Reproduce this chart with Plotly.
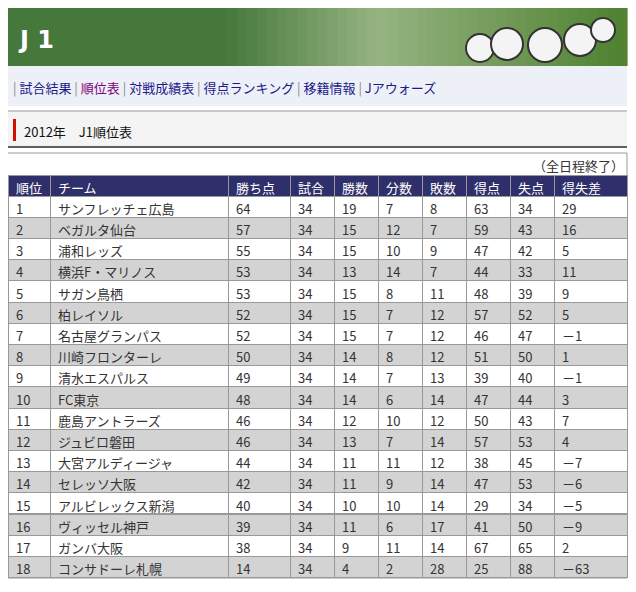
import plotly.graph_objects as go

# the page body adds an 8px margin, so the figure is drawn 8px smaller and shifted
OFF = 8
W, H = 636 - 2 * OFF, 592 - 2 * OFF

ranks = list(range(1, 19))
teams = ["サンフレッチェ広島", "ベガルタ仙台", "浦和レッズ", "横浜F・マリノス", "サガン鳥栖",
         "柏レイソル", "名古屋グランパス", "川崎フロンターレ", "清水エスパルス", "FC東京",
         "鹿島アントラーズ", "ジュビロ磐田", "大宮アルディージャ", "セレッソ大阪",
         "アルビレックス新潟", "ヴィッセル神戸", "ガンバ大阪", "コンサドーレ札幌"]
points = [64, 57, 55, 53, 53, 52, 52, 50, 49, 48, 46, 46, 44, 42, 40, 39, 38, 14]
games = [34] * 18
wins = [19, 15, 15, 13, 15, 15, 15, 14, 14, 14, 12, 13, 11, 11, 10, 11, 9, 4]
draws = [7, 12, 10, 14, 8, 7, 7, 8, 7, 6, 10, 7, 11, 9, 10, 6, 11, 2]
losses = [8, 7, 9, 7, 11, 12, 12, 12, 13, 14, 12, 14, 12, 14, 14, 17, 14, 28]
goals_for = [63, 59, 47, 44, 48, 57, 46, 51, 39, 47, 50, 57, 38, 47, 29, 41, 67, 25]
goals_against = [34, 43, 42, 33, 39, 52, 47, 50, 40, 44, 43, 53, 45, 53, 34, 50, 65, 88]
goal_diff = [29, 16, 5, 11, 9, 5, -1, 1, -1, 3, 7, 4, -7, -6, -5, -9, 2, -63]
headers = ["順位", "チーム", "勝ち点", "試合", "勝数", "分数", "敗数", "得点", "失点", "得失差"]
nav_items = ["試合結果", "順位表", "対戦成績表", "得点ランキング", "移籍情報", "Jアウォーズ"]

FONT = "Noto Sans CJK JP"
CJK_SHIFT = 10  # CJK font renders lower than its anchor


def px(x):
    return (x - OFF) / W


def py(y):
    return 1 - (y - OFF) / H


def clamp(v):
    return min(1, max(0, v))


def rect(x0, y0, x1, y1, fill, line=None):
    return dict(type="rect", xref="paper", yref="paper", x0=px(x0), x1=px(x1),
                y0=py(y1), y1=py(y0), fillcolor=fill, layer="below",
                line=dict(width=1 if line else 0, color=line or fill))


def fmt_diff(v):
    return f"－{-v}" if v < 0 else str(v)


shapes = []
# banner gradient (dark green -> pale -> grass)
n = 62
for i in range(n):
    t = i / (n - 1)
    if t < 0.35:
        c = (70, 120, 60)
    elif t < 0.6:
        k = (t - 0.35) / 0.25
        c = (int(70 + k * 80), int(120 + k * 60), int(60 + k * 70))
    else:
        k = (t - 0.6) / 0.4
        c = (int(150 - k * 70), int(180 - k * 50), int(130 - k * 80))
    x0 = 7 + i * 620 / n
    shapes.append(rect(x0, 7, x0 + 620 / n + 0.6, 66, f"rgb{c}"))
# footballs
for cx, cy, r in [(480, 48, 14), (507, 44, 16), (545, 45, 17), (580, 40, 16), (603, 30, 12)]:
    shapes.append(dict(type="circle", xref="paper", yref="paper", x0=px(cx - r), x1=px(cx + r),
                       y0=py(cy + r), y1=py(cy - r), fillcolor="#f4f4f4",
                       line=dict(color="#333", width=2)))
# nav band
shapes.append(rect(7, 66, 627, 106, "#eef0f7"))
# title band
shapes.append(rect(7, 110, 627, 148, "#f4f4f4"))
shapes.append(rect(7, 110, 627, 112, "#c8c8c8"))
shapes.append(rect(7, 146, 627, 148, "#606060"))
shapes.append(rect(13, 119, 16, 141, "#cc1100"))
# table frame + status row
shapes.append(rect(7, 153, 627, 578, "white", "#999999"))

annotations = [
    dict(text="<b>J 1</b>", x=px(16), y=py(24), xref="paper", yref="paper", showarrow=False,
         xanchor="left", font=dict(family="DejaVu Sans", size=24, color="white")),
    dict(text="2012年　J1順位表", x=px(22), y=py(130 - CJK_SHIFT), xref="paper", yref="paper",
         showarrow=False, xanchor="left", font=dict(family=FONT, size=13, color="#111")),
    dict(text="（全日程終了）", x=px(626), y=py(164 - CJK_SHIFT), xref="paper", yref="paper",
         showarrow=False, xanchor="right", font=dict(family=FONT, size=13, color="#333")),
]
nav = "".join(
    f"<span style='color:#888'>| </span>"
    f"<span style='color:{'#800080' if item == '順位表' else '#1a1a8c'}'>{item} </span>"
    for item in nav_items)
annotations.append(dict(text=nav, x=px(11), y=py(86 - CJK_SHIFT), xref="paper", yref="paper",
                        showarrow=False, xanchor="left", font=dict(family=FONT, size=13)))

row_fill = ["white" if r % 2 == 1 else "#d3d3d3" for r in ranks]
table = go.Table(
    domain=dict(x=[clamp(px(7)), clamp(px(627))], y=[clamp(py(578)), clamp(py(175))]),
    columnwidth=[42, 178, 62, 44, 44, 44, 44, 44, 44, 73],
    header=dict(values=headers, fill_color="#2f2f6b", align="left", height=21,
                line=dict(color="#999999", width=1),
                font=dict(family=FONT, size=13, color="white")),
    cells=dict(values=[ranks, teams, points, games, wins, draws, losses,
                       goals_for, goals_against, [fmt_diff(v) for v in goal_diff]],
               fill_color=[row_fill] * 10, align="left", height=21.2,
               line=dict(color="#999999", width=1),
               font=dict(family=FONT, size=13, color="#333")),
)

fig = go.Figure(table)
fig.update_layout(width=W, height=H, margin=dict(l=0, r=0, t=0, b=0),
                  paper_bgcolor="white", shapes=shapes, annotations=annotations)
fig.write_html("out.html")
